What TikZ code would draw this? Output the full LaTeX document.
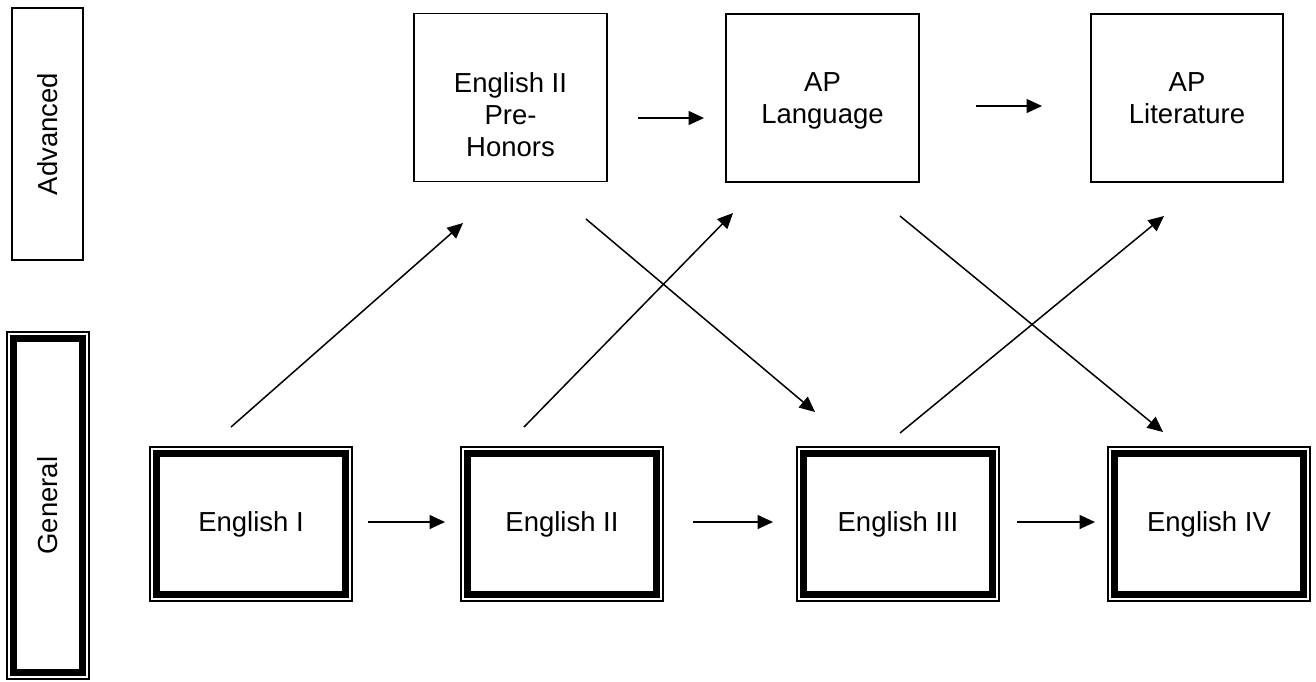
\documentclass[tikz,border=0pt]{standalone}
\usepackage{fontspec}
\setmainfont{Liberation Sans}
\usetikzlibrary{arrows.meta}
\newcommand\toptext[1]{\begin{minipage}[c][168pt][t]{190pt}\centering\vspace*{59pt}#1\end{minipage}}
\tikzset{
  every node/.style={font=\fontsize{27.5}{32}\selectfont},
  advbox/.style={draw, line width=1.3pt, inner sep=0pt, outer sep=0pt},
  genbox/.style={draw, line width=6.5pt, inner sep=0pt, outer sep=0pt, minimum width=189pt, minimum height=141pt},
  frame/.style={line width=1.3pt},
  arr/.style={line width=1.5pt, -{Triangle[length=15.5pt,width=14pt]}},
}
\begin{document}
\begin{tikzpicture}[x=1pt,y=-1pt]
\useasboundingbox (0,0) rectangle (1316,681);
% side labels
\node[advbox, rotate=90, minimum width=252pt, minimum height=71pt] (ladv) at (47.5,134) {Advanced};
\node[genbox, rotate=90, minimum width=334pt, minimum height=69pt] (lgen) at (48,505.5) {General};
\draw[frame] ([shift={(-41pt,-173.5pt)}]lgen.center) rectangle ([shift={(41pt,173.5pt)}]lgen.center);
% advanced row
\node[advbox, minimum width=193pt, minimum height=168pt] (ph) at (510.5,97.5) {\toptext{English II\\Pre-\\Honors}};
\node[advbox, minimum width=193pt, minimum height=168pt] (apl) at (822.5,98) {\toptext{AP\\Language}};
\node[advbox, minimum width=192pt, minimum height=168pt] (apt) at (1187,98) {\toptext{AP\\Literature}};
% general row
\node[genbox] (e1) at (251,524) {English I};
\node[genbox] (e2) at (562,524) {English II};
\node[genbox] (e3) at (898,524) {English III};
\node[genbox] (e4) at (1209,524) {English IV};
\foreach \n in {e1,e2,e3,e4}{
  \draw[frame] ([shift={(-101pt,-77pt)}]\n.center) rectangle ([shift={(101pt,77pt)}]\n.center);
}
% arrow end points
\coordinate (t1s) at (638,118);  \coordinate (t1e) at (704,118);
\coordinate (t2s) at (976,106);  \coordinate (t2e) at (1042,106);
\coordinate (b1s) at (368,522);  \coordinate (b1e) at (445,522);
\coordinate (b2s) at (693,522);  \coordinate (b2e) at (773,522);
\coordinate (b3s) at (1017,522); \coordinate (b3e) at (1095,522);
\coordinate (d1s) at (231,427);  \coordinate (d1e) at (463,223);
\coordinate (d2s) at (524,427);  \coordinate (d2e) at (733,213);
\coordinate (d3s) at (586,219);  \coordinate (d3e) at (815,412);
\coordinate (d4s) at (900,216);  \coordinate (d4e) at (1163,432);
\coordinate (d5s) at (900,433);  \coordinate (d5e) at (1164,216);
\foreach \a in {t1,t2,b1,b2,b3,d1,d2,d3,d4,d5}{
  \draw[arr] (\a s) -- (\a e);
}
\end{tikzpicture}
\end{document}
